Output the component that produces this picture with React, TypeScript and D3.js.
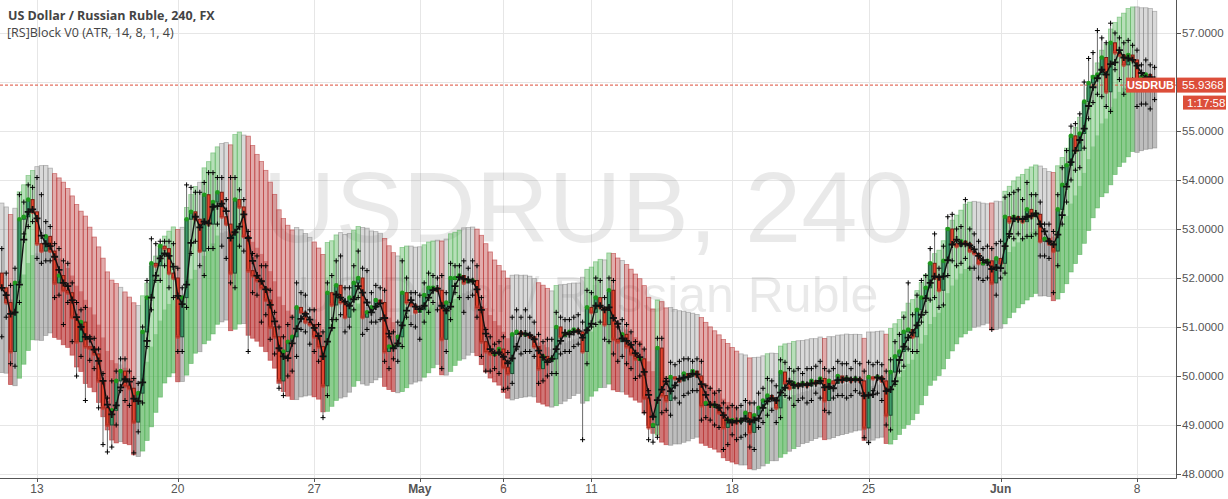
import React from "react";
import * as d3 from "d3";

const W = 1228;
const H = 499;
const PLOT_R = 1176;
const PLOT_B = 478;

const firstOpen = 52.1;

// 4h closes, bar k = 0 .. 262 (Apr 10 – Jun 8, 2015)
const closes = [
  51.8, 51.5, 50.5, 51.9, 53.2, 53.25, 53.6, 53.35,
  52.7, 52.55, 52.85, 52.55, 51.9, 52.05, 51.75, 51.7, 51.2, 50.7,
  51.1, 50.6, 50.57, 50.45, 49.9, 49.35, 49.0, 49.3, 49.9, 50.1,
  49.8, 49.75, 49.06, 49.65, 50.9, 51.6, 52.3, 52.25, 52.65, 52.6,
  52.1, 52.0, 50.8, 51.6, 53.2, 53.35, 53.2, 52.55, 53.7, 53.1,
  53.55, 53.75, 53.25, 53.1, 52.1, 53.6, 53.45, 52.85, 52.15, 52.05,
  51.95, 51.8, 51.55, 51.0, 50.8, 49.9, 50.5, 50.7, 50.8, 51.4,
  51.3, 51.1, 51.05, 50.8, 50.6, 49.8, 51.7, 51.45, 51.85, 51.5,
  51.2, 51.6, 51.9, 52.0, 51.2, 51.3, 51.4, 51.55, 51.5, 50.5,
  50.6, 50.6, 50.8, 51.7, 51.5, 51.45, 51.3, 51.35, 51.65, 51.8,
  51.8, 51.75, 50.75, 51.5, 52.0, 52.0, 52.05, 51.9, 51.95, 51.95,
  51.4, 50.7, 50.5, 50.45, 50.45, 50.55, 50.18, 50.05, 50.85, 50.9,
  50.85, 50.85, 50.8, 50.6, 50.15, 50.4, 50.3, 50.35, 51.0, 50.8,
  50.85, 50.9, 50.95, 50.9, 50.5, 51.4, 51.3, 51.6, 51.4, 51.05,
  51.75, 50.75, 50.7, 50.85, 50.6, 50.45, 50.35, 50.35, 49.55, 48.95,
  49.0, 50.57, 49.6, 49.5, 49.98, 49.95, 49.9, 50.05, 50.0, 50.1,
  50.0, 49.4, 49.45, 49.4, 49.4, 49.25, 48.95, 49.1, 49.1, 49.05,
  49.1, 49.25, 48.85, 49.2, 49.35, 49.5, 49.6, 49.55, 49.35, 50.08,
  49.85, 49.75, 49.85, 49.8, 49.85, 49.8, 49.9, 49.85, 49.95, 49.5,
  49.9, 49.85, 50.0, 49.9, 49.95, 49.9, 49.95, 49.9, 48.94, 49.98,
  49.95, 49.98, 49.9, 49.2, 50.08, 50.4, 50.5, 50.9, 50.95, 50.8,
  51.35, 51.6, 51.8, 52.3, 52.0, 51.75, 52.35, 53.0, 52.7, 52.65,
  52.75, 52.7, 52.55, 52.5, 52.3, 52.3, 52.35, 51.9, 52.4, 52.3,
  53.25, 53.15, 53.25, 53.2, 53.15, 53.4, 53.25, 53.3, 52.75, 52.8,
  52.7, 52.55, 53.4, 53.9, 54.3, 54.9, 54.6, 54.95, 55.6, 55.98,
  56.1, 56.15, 56.5, 55.8, 56.8, 56.6, 56.55, 56.35, 56.55, 56.45,
  56.0, 56.1, 56.15, 56.05, 55.94,
];

// upper wick length above the body
const wickUp = [
  0.5, 0.3, 0.35, 0.3, 0.5, 0.3, 0.3, 0.25,
  0.7, 1.0, 0.3, 0.2, 0.15, 0.55, 0.3, 0.55, 0.2, 0.3,
  0.25, 0.3, 0.2, 0.2, 0.1, 0.15, 0.2, 0.6, 0.2, 0.25,
  0.25, 0.3, 0.2, 0.2, 0.1, 0.35, 0.5, 0.4, 0.1, 0.1,
  0.15, 0.6, 0.2, 0.2, 0.7, 0.5, 0.4, 0.55, 0.25, 0.45,
  0.6, 0.3, 0.3, 0.35, 0.95, 0.45, 0.2, 0.15, 0.1, 0.35,
  0.4, 0.3, 0.45, 0.2, 0.3, 0.2, 0.3, 0.35, 0.4, 0.5,
  0.3, 0.35, 0.25, 0.3, 0.25, 0.3, 0.2, 0.35, 0.5, 0.6,
  0.3, 0.2, 0.35, 0.55, 0.2, 0.85, 0.3, 0.3, 0.25, 0.25,
  0.2, 0.3, 0.3, 0.65, 0.3, 0.2, 0.25, 0.3, 0.25, 0.3,
  0.25, 0.2, 0.3, 0.2, 0.3, 0.25, 0.2, 0.3, 0.25, 0.4,
  0.3, 0.2, 0.25, 0.3, 0.2, 0.15, 0.25, 0.3, 0.35, 0.45,
  0.3, 0.5, 0.35, 0.3, 0.25, 0.3, 0.35, 0.4, 0.3, 0.2,
  0.3, 0.25, 0.25, 0.3, 0.2, 0.35, 0.3, 0.4, 0.35, 0.2,
  0.25, 0.2, 0.25, 0.3, 0.2, 0.3, 0.25, 0.3, 0.2, 0.15,
  0.2, 0.2, 0.2, 0.35, 0.3, 0.25, 0.35, 0.3, 0.3, 0.2,
  0.25, 0.3, 0.35, 0.3, 0.25, 0.3, 0.2, 0.25, 0.3, 0.25,
  0.3, 0.25, 0.2, 0.25, 0.3, 0.25, 0.35, 0.3, 0.25, 0.25,
  0.2, 0.3, 0.25, 0.3, 0.2, 0.3, 0.25, 0.3, 0.35, 0.2,
  0.2, 0.25, 0.3, 0.25, 0.3, 0.2, 0.35, 0.3, 0.2, 0.3,
  0.25, 0.3, 0.25, 0.2, 0.25, 0.3, 0.35, 0.3, 0.95, 0.3,
  0.3, 0.35, 0.25, 0.3, 0.6, 0.2, 0.3, 0.25, 0.3, 0.3,
  0.3, 0.85, 0.3, 0.35, 0.25, 0.3, 0.3, 0.25, 0.3, 0.35,
  0.4, 0.45, 0.5, 0.55, 0.4, 0.55, 0.3, 0.4, 0.25, 0.3,
  0.3, 0.25, 0.3, 0.35, 0.3, 0.2, 0.25, 0.4, 0.4, 0.5,
  0.5, 0.9, 0.4, 0.3, 0.4, 0.2, 0.3, 0.25, 0.3, 0.2,
  0.2, 0.25, 0.3, 0.2, 0.25,
];

// lower wick length below the body
const wickDown = [
  1.0, 0.3, 0.25, 0.3, 0.4, 0.3, 0.2, 0.2,
  0.3, 0.25, 0.2, 0.2, 0.3, 0.25, 0.7, 0.2, 0.5, 0.7,
  0.3, 1.1, 0.25, 0.3, 0.55, 0.75, 0.55, 0.45, 0.3, 0.2,
  0.3, 0.35, 0.63, 0.2, 0.2, 0.3, 0.25, 0.3, 0.3, 0.35,
  0.3, 0.4, 0.3, 0.3, 0.2, 0.7, 0.45, 0.3, 0.5, 0.5,
  0.5, 0.45, 0.6, 0.7, 0.2, 0.3, 0.8, 0.3, 1.65, 0.35,
  0.3, 0.7, 0.3, 0.25, 0.35, 0.15, 0.3, 0.5, 0.6, 0.4,
  0.35, 0.2, 0.4, 0.3, 0.3, 0.65, 0.2, 0.3, 0.3, 0.25,
  0.3, 0.2, 0.25, 0.3, 0.35, 0.25, 0.2, 0.3, 0.35, 0.2,
  0.35, 0.25, 0.3, 0.2, 0.3, 0.4, 0.3, 0.55, 0.25, 0.35,
  0.3, 0.4, 0.6, 0.25, 0.35, 0.3, 0.4, 0.6, 0.3, 0.3,
  0.2, 0.3, 0.4, 0.35, 0.3, 0.4, 0.45, 0.3, 0.2, 0.3,
  0.4, 0.35, 0.3, 0.2, 0.3, 0.25, 0.3, 0.25, 0.3, 0.35,
  0.3, 0.35, 0.3, 0.25, 1.8, 0.25, 0.3, 0.25, 0.3, 0.3,
  0.35, 0.3, 0.4, 0.3, 0.35, 0.3, 0.4, 0.35, 0.3, 0.25,
  0.3, 0.25, 0.35, 0.2, 0.3, 0.4, 0.45, 0.3, 0.35, 0.3,
  0.3, 0.3, 0.25, 0.3, 0.4, 0.3, 0.45, 0.35, 0.3, 0.35,
  0.3, 0.3, 0.3, 0.35, 0.25, 0.3, 0.3, 0.25, 0.3, 0.2,
  0.25, 0.2, 0.35, 0.3, 0.25, 0.35, 0.3, 0.2, 0.3, 0.2,
  0.25, 0.3, 0.25, 0.3, 0.35, 0.3, 0.2, 0.25, 0.2, 0.3,
  0.25, 0.3, 0.4, 0.2, 0.3, 0.25, 0.3, 0.3, 0.35, 0.3,
  0.3, 0.25, 0.3, 0.25, 0.4, 0.35, 0.3, 0.3, 0.35, 0.4,
  0.35, 0.3, 0.35, 0.3, 0.3, 0.35, 0.3, 0.95, 0.25, 0.3,
  0.2, 0.3, 0.35, 0.3, 0.35, 0.3, 0.4, 0.35, 0.3, 0.3,
  0.3, 0.85, 0.3, 0.3, 0.35, 0.3, 0.4, 0.35, 0.3, 0.35,
  0.4, 0.35, 0.45, 0.3, 0.4, 0.35, 0.5, 0.6, 0.5, 0.4,
  0.5, 0.45, 0.55, 0.6, 0.3,
];

const tickLabels = ["13", "20", "27", "May", "6", "11", "18", "25", "Jun", "8"];
const tickBars = [8, 40, 71, 95, 114, 134, 166, 197, 227, 258];
const monthTicks = ["May", "Jun"];
const priceTicks = [48, 49, 50, 51, 52, 53, 54, 55, 56, 57];
const lastPrice = 55.9368;
const countdown = "1:17:58";
const symbol = "USDRUB";
const titleText = "US Dollar / Russian Ruble, 240, FX";
const studyText = "[RS]Block V0 (ATR, 14, 8, 1, 4)";

const atrLen = 14;
const emaLen = 12;
const blockMult = 1.4;

const COLORS: Record<string, string> = {
  up: "rgb(76,175,80)",
  down: "rgb(178,34,34)",
  flat: "rgb(128,128,128)",
};
const OPAC: Record<string, number> = { up: 0.4, down: 0.38, flat: 0.3 };

export default function App() {
  const x = d3.scaleLinear().domain([8, 258]).range([37, 1137]);
  const y = d3.scaleLinear().domain([48, 57]).range([474, 33]);
  const bw = x(1) - x(0);

  const bars = closes.map((c, k) => {
    const o = k === 0 ? firstOpen : closes[k - 1];
    const h = Math.max(o, c) + wickUp[k];
    const l = Math.min(o, c) - wickDown[k];
    return { k, o, c, h, l };
  });

  // ATR (RMA) and EMA centre -> blocks
  const trs = bars.map((b, k) => {
    const pc = k === 0 ? b.o : bars[k - 1].c;
    return Math.max(b.h - b.l, Math.abs(b.h - pc), Math.abs(b.l - pc));
  });
  const atr0 = d3.mean(trs.slice(0, atrLen)) as number;
  const atr: number[] = [];
  const ema: number[] = [];
  const alpha = 2 / (emaLen + 1);
  bars.forEach((b, k) => {
    atr.push(k === 0 ? atr0 : atr[k - 1] + (trs[k] - atr[k - 1]) / atrLen);
    ema.push(k === 0 ? b.c : ema[k - 1] + alpha * (b.c - ema[k - 1]));
  });
  const blocks = bars.map((b, k) => {
    const c = ema[k];
    const half = blockMult * atr[k];
    const slope = k === 0 ? 0 : ema[k] - ema[k - 1];
    const th = 0.05 * atr[k];
    const kind = slope > th ? "up" : slope < -th ? "down" : "flat";
    return { k, top: c + half, mid: c, bot: c - half, kind };
  });

  // smoothed line
  const smooth = bars.map((b, k) => {
    const s = bars.slice(Math.max(0, k - 2), k + 1);
    return { k, v: d3.mean(s, (d) => d.c) as number };
  });
  const linePath = d3
    .line<{ k: number; v: number }>()
    .x((d) => x(d.k))
    .y((d) => y(d.v))(smooth) as string;

  const font = "'Liberation Sans', Arial, sans-serif";
  const red = "#dc4e3a";
  const lastY = y(lastPrice);

  return (
    <div style={{ position: "absolute", left: 0, top: 0, width: W, height: H, background: "#fff" }}>
      <style>{"body{margin:0}"}</style>
      <svg width={W} height={H} style={{ display: "block" }}>
        <defs>
          <clipPath id="plot">
            <rect x={0} y={0} width={PLOT_R} height={PLOT_B} />
          </clipPath>
        </defs>
        <rect x={0} y={0} width={W} height={H} fill="#fff" />
        {/* grid */}
        <g stroke="#e6e6e6" strokeWidth={1}>
          {priceTicks.map((p) => (
            <line key={"h" + p} x1={0} x2={PLOT_R} y1={Math.round(y(p)) + 0.5} y2={Math.round(y(p)) + 0.5} />
          ))}
          {tickBars.map((t) => (
            <line key={"v" + t} x1={Math.round(x(t)) + 0.5} x2={Math.round(x(t)) + 0.5} y1={0} y2={PLOT_B} />
          ))}
        </g>
        {/* watermark */}
        <text x={588} y={242} textAnchor="middle" fontFamily={font} fontSize={101} fill="rgba(0,0,0,0.085)">
          USDRUB, 240
        </text>
        <text x={588} y={312} textAnchor="middle" fontFamily={font} fontSize={50} fill="rgba(0,0,0,0.085)">
          US Dollar / Russian Ruble
        </text>
        <g clipPath="url(#plot)">
          {/* blocks */}
          {blocks.map((b) => (
            <g key={"b" + b.k}>
              <rect
                x={x(b.k) - bw / 2}
                width={bw}
                y={y(b.top)}
                height={y(b.bot) - y(b.top)}
                fill={COLORS[b.kind]}
                fillOpacity={OPAC[b.kind]}
                stroke={COLORS[b.kind]}
                strokeOpacity={0.55}
                strokeWidth={0.8}
              />
              <rect
                x={x(b.k) - bw / 2}
                width={bw}
                y={y(b.mid)}
                height={y(b.bot) - y(b.mid)}
                fill={COLORS[b.kind]}
                fillOpacity={OPAC[b.kind]}
              />
            </g>
          ))}
          {/* last price line */}
          <line x1={0} x2={PLOT_R} y1={lastY} y2={lastY} stroke={red} strokeWidth={1} strokeDasharray="3,2" />
          {/* wicks */}
          <g stroke="#6a6a6a" strokeWidth={1}>
            {bars.map((b) => (
              <line key={"w" + b.k} x1={x(b.k)} x2={x(b.k)} y1={y(b.h)} y2={y(b.l)} />
            ))}
          </g>
          {/* high/low markers */}
          <g stroke="#000" strokeWidth={1}>
            {bars.map((b) => (
              <g key={"m" + b.k}>
                <path d={`M${x(b.k) - 2.5},${y(b.h)}h5M${x(b.k)},${y(b.h) - 2.5}v5`} />
                <path d={`M${x(b.k) - 2.5},${y(b.l)}h5M${x(b.k)},${y(b.l) - 2.5}v5`} />
              </g>
            ))}
          </g>
          {/* bodies */}
          {bars.map((b) => {
            const up = b.c >= b.o;
            const top = y(Math.max(b.o, b.c));
            const h = Math.max(1.5, y(Math.min(b.o, b.c)) - top);
            return (
              <rect
                key={"c" + b.k}
                x={x(b.k) - 1.5}
                y={top}
                width={3}
                height={h}
                fill={up ? "#3d9a6a" : "#e2442f"}
                stroke={up ? "#1d4d33" : "#7a1c12"}
                strokeWidth={1}
              />
            );
          })}
          {/* close dots */}
          {bars.map((b) => {
            const up = b.c >= b.o;
            return (
              <circle
                key={"d" + b.k}
                cx={x(b.k)}
                cy={y(b.c)}
                r={2.3}
                fill={up ? "#1f9a1f" : "#c6382a"}
                fillOpacity={up ? 1 : 0.7}
              />
            );
          })}
          {/* smoothed line with crosses */}
          <path d={linePath} fill="none" stroke="#111" strokeWidth={1.4} />
          <g stroke="#111" strokeWidth={1.8}>
            {smooth.map((d) => (
              <path key={"x" + d.k} d={`M${x(d.k) - 3.5},${y(d.v)}h7M${x(d.k)},${y(d.v) - 3.5}v7`} />
            ))}
          </g>
        </g>
        {/* axes */}
        <line x1={PLOT_R + 0.5} x2={PLOT_R + 0.5} y1={0} y2={PLOT_B + 0.5} stroke="#555" strokeWidth={1} />
        <line x1={0} x2={PLOT_R + 0.5} y1={PLOT_B + 0.5} y2={PLOT_B + 0.5} stroke="#555" strokeWidth={1} />
        {priceTicks
          .filter((p) => Math.abs(y(p) - lastY) > 12)
          .map((p) => (
            <g key={"pt" + p}>
              <line x1={PLOT_R} x2={PLOT_R + 5} y1={Math.round(y(p)) + 0.5} y2={Math.round(y(p)) + 0.5} stroke="#555" />
              <text x={1182} y={y(p) + 4} fontFamily={font} fontSize={11.5} fill="#555">
                {p.toFixed(4)}
              </text>
            </g>
          ))}
        {tickBars.map((t, i) => (
          <g key={"tt" + t}>
            <line x1={Math.round(x(t)) + 0.5} x2={Math.round(x(t)) + 0.5} y1={PLOT_B} y2={PLOT_B + 4} stroke="#555" />
            <text
              x={x(t)}
              y={493}
              textAnchor="middle"
              fontFamily={font}
              fontSize={12}
              fontWeight={monthTicks.includes(tickLabels[i]) ? "bold" : "normal"}
              fill="#555"
            >
              {tickLabels[i]}
            </text>
          </g>
        ))}
        {/* price labels */}
        <rect x={1126} y={lastY - 7.5} width={49} height={15} fill={red} />
        <text x={1150.5} y={lastY + 4} textAnchor="middle" fontFamily={font} fontSize={11} fontWeight="bold" fill="#fff">
          {symbol}
        </text>
        <rect x={1177} y={lastY - 7.5} width={49} height={15} fill={red} />
        <text x={1182} y={lastY + 4} fontFamily={font} fontSize={11.5} fill="#fff">
          {lastPrice.toFixed(4)}
        </text>
        <rect x={1183} y={lastY + 10.5} width={43} height={14} fill={red} />
        <text x={1187} y={lastY + 21.5} fontFamily={font} fontSize={11.5} fill="#fff">
          {countdown}
        </text>
        {/* legend */}
        <text x={8} y={20} fontFamily="'Open Sans', sans-serif" fontSize={12.5} fontWeight="bold" fill="#444">
          {titleText}
        </text>
        <text x={7} y={37} fontFamily="'Open Sans', sans-serif" fontSize={12.5} fill="#444">
          {studyText}
        </text>
      </svg>
    </div>
  );
}
